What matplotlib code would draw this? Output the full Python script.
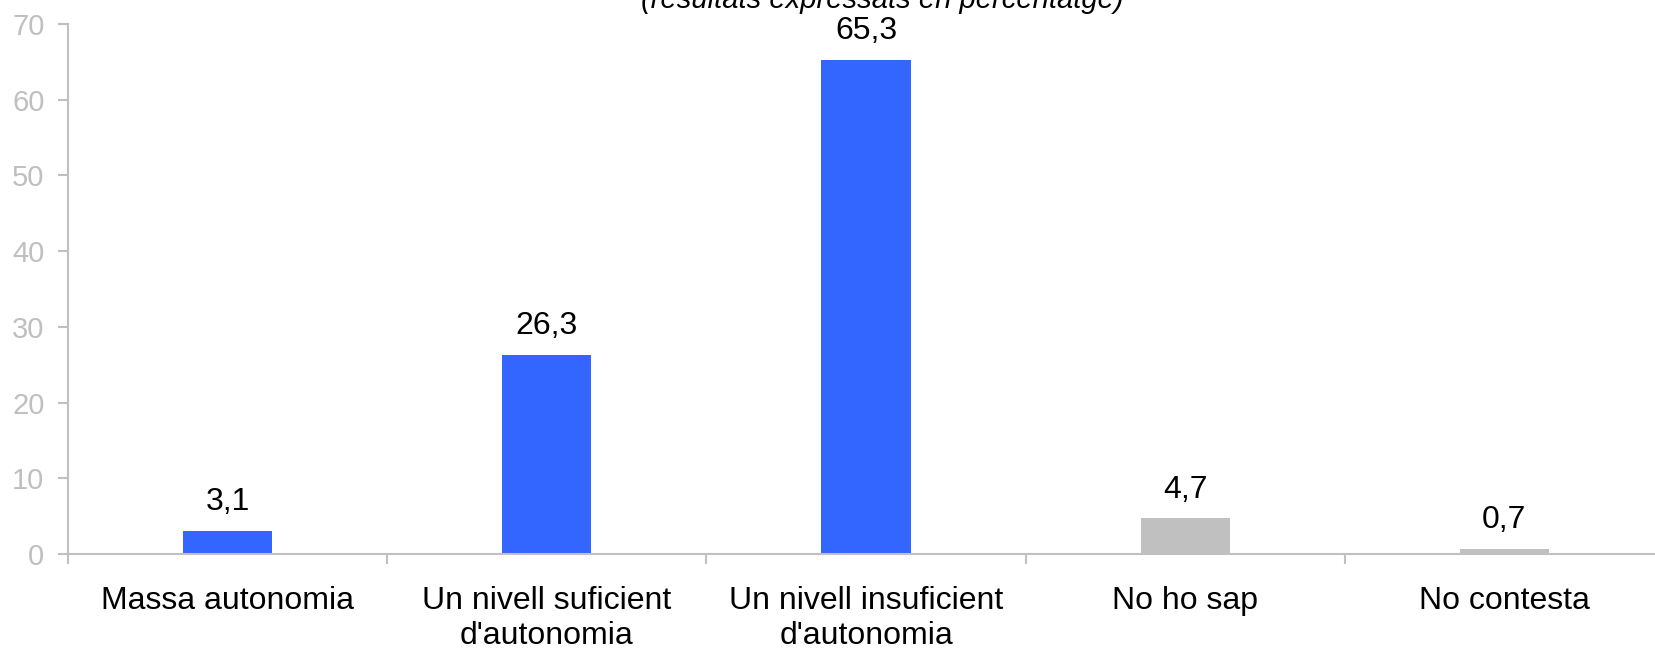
import numpy as np
import matplotlib
matplotlib.use("Agg")
import matplotlib.pyplot as plt

plt.rcParams["font.family"] = ["Liberation Sans", "DejaVu Sans"]

# ---- data ----
CATEGORIES = ["Massa autonomia", "Un nivell suficient\nd'autonomia",
              "Un nivell insuficient\nd'autonomia", "No ho sap", "No contesta"]
VALUES = [3.1, 26.3, 65.3, 4.7, 0.7]
SUBTITLE = "(resultats expressats en percentatge)"

BLUE = "#3366FF"
GREY = "#C0C0C0"
AXIS_GREY = "#C0C0C0"
BAR_COLORS = [BLUE, BLUE, BLUE, GREY, GREY]

fig = plt.figure(figsize=(16.55, 6.5), dpi=100)
ax = fig.add_axes([68 / 1655, 96 / 650, 1596 / 1655, 530 / 650])

x = np.arange(len(CATEGORIES))
bars = ax.bar(x, VALUES, width=0.28, color=BAR_COLORS, zorder=2)

for xi, v in zip(x, VALUES):
    ax.annotate(f"{v:.1f}".replace(".", ","), (xi, v), xytext=(0, 10),
                textcoords="offset points", ha="center", va="bottom",
                fontsize=23, color="black")

ax.set_xlim(-0.5, len(CATEGORIES) - 0.5)
ax.set_ylim(0, 70)
ax.set_yticks(np.arange(0, 71, 10))

# boundary ticks (major) and centered labels (minor)
ax.set_xticks(np.arange(-0.5, len(CATEGORIES), 1.0))
ax.set_xticklabels([])
ax.set_xticks(x, minor=True)
ax.set_xticklabels(CATEGORIES, minor=True, fontsize=23)
ax.tick_params(axis="x", which="major", length=7, width=1.5, color=AXIS_GREY, direction="out")
ax.tick_params(axis="x", which="minor", length=0, pad=23)
ax.tick_params(axis="y", length=7, width=1.5, color=AXIS_GREY, labelcolor="#BFBFBF",
               labelsize=21, pad=10)

for side in ["top", "right"]:
    ax.spines[side].set_visible(False)
for side in ["left", "bottom"]:
    ax.spines[side].set_color(AXIS_GREY)
    ax.spines[side].set_linewidth(1.5)

fig.text(882 / 1655, 1 - 8 / 650, SUBTITLE, ha="center", va="baseline",
         fontsize=21, style="italic", color="black")

fig.savefig("out.png", dpi=100)
